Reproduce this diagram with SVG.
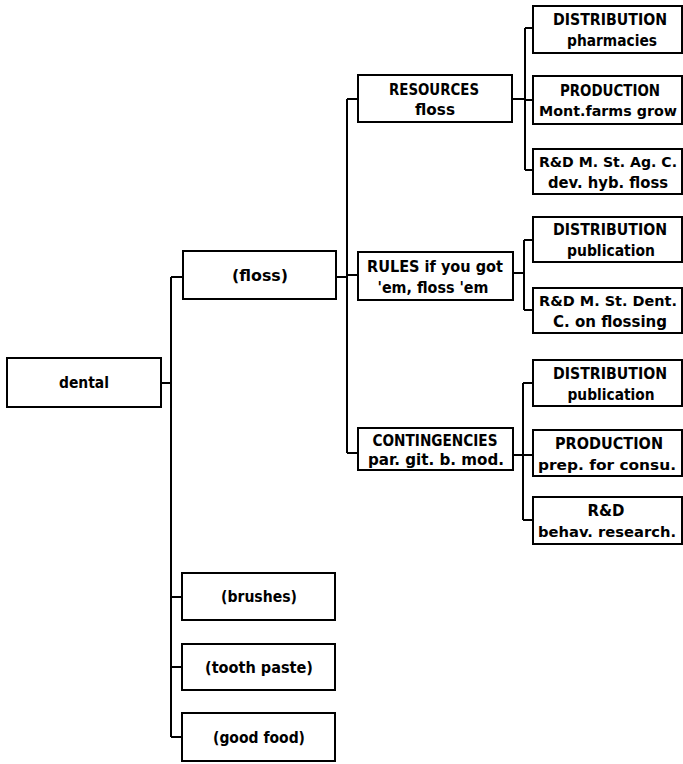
<svg xmlns="http://www.w3.org/2000/svg" width="683" height="764" viewBox="0 0 683 764">
<style>
rect{fill:#fff;stroke:#000;stroke-width:2}
#connectors path{fill:none;stroke:#000;stroke-width:2}
text{font-family:"DejaVu Sans","Liberation Sans",sans-serif;font-size:16px;font-weight:bold;fill:#000;text-anchor:middle}
text.s{font-size:14px}
</style>
<rect x="0" y="0" width="683" height="764" style="stroke:none"/>
<g id="connectors">
<path d="M161 383H171M171 277V737M171 277H183M171 597H182M171 667H182M171 737H182"/>
<path d="M336 277H347M347 99V453M347 99H358M347 275H358M347 453H358"/>
<path d="M512 99H525M525 28V170M525 28H533M525 100H533M525 170H533"/>
<path d="M513 273H524M524 240V310M524 240H533M524 310H533"/>
<path d="M513 455H523M523 383V520M523 383H533M523 455H533M523 520H533"/>
</g>
<g id="dental"><rect x="7" y="358" width="154" height="49"/><text x="84" y="388" textLength="50" lengthAdjust="spacingAndGlyphs">dental</text></g>
<g id="floss"><rect x="183" y="251" width="153" height="48"/><text x="260" y="281" textLength="56" lengthAdjust="spacingAndGlyphs">(floss)</text></g>
<g id="brushes"><rect x="182" y="573" width="153" height="47"/><text x="259" y="602" textLength="76" lengthAdjust="spacingAndGlyphs">(brushes)</text></g>
<g id="toothpaste"><rect x="182" y="644" width="153" height="46"/><text x="259" y="673" textLength="108" lengthAdjust="spacingAndGlyphs">(tooth paste)</text></g>
<g id="goodfood"><rect x="182" y="713" width="153" height="48"/><text x="259" y="743" textLength="92" lengthAdjust="spacingAndGlyphs">(good food)</text></g>
<g id="resources"><rect x="358" y="75" width="154" height="47"/><text x="434" y="95" textLength="90" lengthAdjust="spacingAndGlyphs">RESOURCES</text><text x="435" y="115" textLength="40" lengthAdjust="spacingAndGlyphs">floss</text></g>
<g id="rules"><rect x="358" y="252" width="155" height="48"/><text x="435" y="272" textLength="136" lengthAdjust="spacingAndGlyphs">RULES if you got</text><text x="433" y="293" textLength="111" lengthAdjust="spacingAndGlyphs">'em, floss 'em</text></g>
<g id="contingencies"><rect x="358" y="428" width="155" height="42"/><text x="435" y="446" textLength="125" lengthAdjust="spacingAndGlyphs">CONTINGENCIES</text><text x="436" y="465" textLength="136" lengthAdjust="spacingAndGlyphs">par. git. b. mod.</text></g>
<g id="r-dist"><rect x="533" y="6" width="149" height="47"/><text x="610" y="25" textLength="114" lengthAdjust="spacingAndGlyphs">DISTRIBUTION</text><text x="612" y="46" textLength="90" lengthAdjust="spacingAndGlyphs">pharmacies</text></g>
<g id="r-prod"><rect x="533" y="76" width="149" height="48"/><text x="610" y="96" textLength="100" lengthAdjust="spacingAndGlyphs">PRODUCTION</text><text class="s" x="608" y="116" textLength="138" lengthAdjust="spacingAndGlyphs">Mont.farms grow</text></g>
<g id="r-rd"><rect x="533" y="149" width="149" height="45"/><text class="s" x="608" y="167" textLength="138" lengthAdjust="spacingAndGlyphs">R&amp;D M. St. Ag. C.</text><text x="608" y="188" textLength="120" lengthAdjust="spacingAndGlyphs">dev. hyb. floss</text></g>
<g id="u-dist"><rect x="533" y="217" width="149" height="45"/><text x="610" y="235" textLength="114" lengthAdjust="spacingAndGlyphs">DISTRIBUTION</text><text x="611" y="256" textLength="88" lengthAdjust="spacingAndGlyphs">publication</text></g>
<g id="u-rd"><rect x="533" y="288" width="149" height="45"/><text class="s" x="608" y="306" textLength="138" lengthAdjust="spacingAndGlyphs">R&amp;D   M. St. Dent.</text><text x="610" y="327" textLength="114" lengthAdjust="spacingAndGlyphs">C. on flossing</text></g>
<g id="c-dist"><rect x="533" y="360" width="149" height="46"/><text x="610" y="379" textLength="114" lengthAdjust="spacingAndGlyphs">DISTRIBUTION</text><text x="611" y="400" textLength="87" lengthAdjust="spacingAndGlyphs">publication</text></g>
<g id="c-prod"><rect x="533" y="430" width="149" height="46"/><text x="609" y="449" textLength="108" lengthAdjust="spacingAndGlyphs">PRODUCTION</text><text class="s" x="607" y="470" textLength="138" lengthAdjust="spacingAndGlyphs">prep. for consu.</text></g>
<g id="c-rd"><rect x="533" y="497" width="149" height="47"/><text x="606" y="516" textLength="37" lengthAdjust="spacingAndGlyphs">R&amp;D</text><text class="s" x="607" y="537" textLength="138" lengthAdjust="spacingAndGlyphs">behav. research.</text></g>
</svg>
